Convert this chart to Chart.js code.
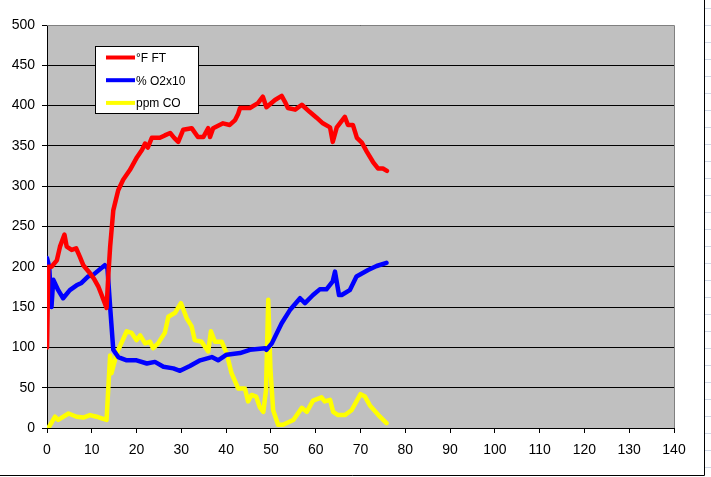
<!DOCTYPE html>
<html>
<head>
<meta charset="utf-8">
<script src="https://cdn.jsdelivr.net/npm/chart.js@4/dist/chart.umd.min.js"></script>
<style>
  html, body { margin: 0; padding: 0; background: #fff; }
  #wrap { width: 711px; height: 477px; }
</style>
</head>
<body>
<div id="wrap"><canvas id="myChart" width="711" height="477"></canvas></div>
<script>
// flue temp readings (minutes, °F)
const ftTime = [0, 0.3, 1, 2.2, 2.9, 3.9, 4.4, 5.5, 6.5, 7.3, 8.1, 9.6, 10.5, 11.5, 12.2, 13.3, 13.7, 14.1, 14.8, 15.9, 17, 18.5, 20.1, 21.2, 21.9, 22.5, 23.4, 25.2, 26.3, 27.5, 28.4, 29.3, 30.4, 32.3, 33.7, 34.9, 36, 36.4, 37.1, 39.3, 40.8, 42, 42.7, 43.1, 45.3, 47.1, 48.2, 49, 50.9, 52.4, 53.1, 53.8, 55.4, 56.9, 58.7, 60.2, 61.6, 63.2, 63.8, 64.7, 66.5, 67.2, 68.3, 69.2, 70.3, 71.4, 72.8, 73.9, 75, 75.9]
const ftVals = [100, 200, 200, 208, 225, 240, 225, 221, 223, 213, 202, 192, 185, 175, 165, 149, 190, 225, 270, 295, 308, 320, 336, 345, 353, 348, 360, 360, 363, 366, 360, 355, 370, 372, 361, 361, 372, 361, 372, 378, 376, 382, 390, 397, 397, 403, 411, 398, 407, 412, 405, 397, 395, 401, 392, 385, 378, 373, 355, 373, 386, 376, 376, 360, 354, 343, 330, 322, 322, 319]

// oxygen x10
const o2Time = [0, 0.5, 1, 1.4, 2.5, 3.6, 5.1, 6.6, 7.7, 9.2, 10.3, 12.9, 13.5, 14.1, 14.8, 15.9, 17.8, 20, 22.3, 24.1, 26, 28.2, 29.7, 31.9, 34.2, 36.8, 38.2, 40.1, 43.1, 45.3, 48.7, 49, 50.2, 52.4, 54.2, 56.5, 57.6, 59.4, 60.9, 62.4, 63.8, 64.3, 65.2, 65.8, 67.6, 69.1, 71.7, 73.6, 75.8]
const o2Vals = [211, 200, 150, 184, 171, 161, 171, 177, 180, 188, 190, 202, 198, 150, 97, 88, 84, 84, 80, 82, 76, 74, 71, 77, 84, 88, 84, 91, 93, 97, 99, 97, 105, 130, 146, 161, 155, 165, 172, 172, 182, 194, 165, 165, 171, 188, 196, 201, 205]

// carbon monoxide ppm
const coTime = [0, 0.3, 1.8, 2.5, 4.8, 6.6, 8.1, 9.6, 11.1, 12.2, 13.3, 13.7, 14.1, 14.4, 15.6, 17.8, 18.9, 20, 20.8, 21.9, 23, 23.7, 24.8, 26.3, 27.1, 28.6, 29.9, 31.2, 32.3, 33, 34.5, 36, 36.6, 37.5, 39, 40.1, 41.2, 42.7, 44.2, 44.9, 45.7, 46.7, 47.5, 48.3, 48.9, 49.4, 49.9, 50.5, 51.6, 52.7, 55, 56.9, 58, 59.4, 61.3, 62, 63.2, 63.9, 65, 66.5, 68, 69.1, 70, 71, 72.1, 74, 75.8]
const coVals = [0, 0, 14, 10, 18, 14, 13, 16, 14, 12, 10, 51, 90, 68, 93, 120, 118, 109, 115, 105, 107, 99, 105, 118, 138, 143, 155, 136, 126, 109, 107, 95, 120, 107, 107, 93, 68, 49, 49, 33, 41, 39, 26, 20, 47, 159, 72, 22, 4, 4, 10, 25, 20, 34, 38, 33, 35, 20, 16, 16, 22, 33, 42, 39, 28, 16, 6]

const seriesNames = ['°F FT', '% O2x10', 'ppm CO']
const seriesColors = ['#ff0000', '#0000ff', '#ffff00']

const toPoints = (xs, ys) => xs.map((x, i) => ({ x: x, y: ys[i] }))

// gray plot background + top/right frame + outer chart border
const plotBg = {
    id: 'plotBg',
    beforeDraw(chart) {
        const { ctx, chartArea: a } = chart
        ctx.save()
        ctx.fillStyle = '#c0c0c0'
        ctx.fillRect(a.left, a.top, a.right - a.left, a.bottom - a.top)
        // sheet row lines peeking out on the right
        ctx.strokeStyle = '#d0d7e5'
        ctx.lineWidth = 1
        for (let y = 8.5; y < 477; y += 17) {
            ctx.beginPath()
            ctx.moveTo(705, y)
            ctx.lineTo(711, y)
            ctx.stroke()
        }
        // outer border
        ctx.strokeStyle = '#000'
        ctx.beginPath()
        ctx.moveTo(704.5, 0)
        ctx.lineTo(704.5, 475.5)
        ctx.lineTo(0, 475.5)
        ctx.stroke()
        ctx.restore()
    },
    afterDatasetsDraw(chart) {
        const { ctx, chartArea: a } = chart
        ctx.save()
        ctx.strokeStyle = '#808080'
        ctx.lineWidth = 1
        ctx.beginPath()
        ctx.moveTo(a.left, a.top + 0.5)
        ctx.lineTo(a.right + 0.5, a.top + 0.5)
        ctx.lineTo(a.right + 0.5, a.bottom)
        ctx.stroke()
        ctx.restore()
    }
}

// boxed legend inside the plot
const boxLegend = {
    id: 'boxLegend',
    afterDraw(chart) {
        const ctx = chart.ctx
        ctx.save()
        ctx.fillStyle = '#fff'
        ctx.fillRect(95, 46, 103, 67)
        ctx.strokeStyle = '#000'
        ctx.lineWidth = 1
        ctx.strokeRect(95.5, 46.5, 103, 67)
        ctx.font = '12px "Liberation Sans", Arial, sans-serif'
        ctx.textBaseline = 'middle'
        chart.data.datasets.forEach((ds, i) => {
            const y = 57.5 + i * 22.7
            ctx.strokeStyle = ds.borderColor
            ctx.lineWidth = 4
            ctx.beginPath()
            ctx.moveTo(106, y)
            ctx.lineTo(135, y)
            ctx.stroke()
            ctx.fillStyle = '#000'
            ctx.fillText(ds.label, 136, y + 1)
        })
        ctx.restore()
    }
}

const ctx = document.getElementById('myChart').getContext('2d')
const myChart = new Chart(ctx, {
    type: 'scatter',
    data: {
        datasets: [
            { label: seriesNames[0], data: toPoints(ftTime, ftVals), borderColor: seriesColors[0] },
            { label: seriesNames[1], data: toPoints(o2Time, o2Vals), borderColor: seriesColors[1] },
            { label: seriesNames[2], data: toPoints(coTime, coVals), borderColor: seriesColors[2] }
        ].map(d => Object.assign(d, {
            showLine: true, borderWidth: 4.5, pointRadius: 0, tension: 0,
            backgroundColor: d.borderColor, borderJoinStyle: 'round', borderCapStyle: 'round'
        }))
    },
    options: {
        responsive: false,
        animation: false,
        layout: { padding: { left: 0, right: 37, top: 25, bottom: 0 } },
        plugins: { legend: { display: false }, tooltip: { enabled: false } },
        scales: {
            x: {
                type: 'linear', min: 0, max: 140,
                ticks: { stepSize: 10, color: '#000', padding: 9,
                    font: { family: '"Liberation Sans", Arial, sans-serif', size: 14 } },
                grid: { drawOnChartArea: false, drawTicks: true, tickLength: 5, color: '#000' },
                border: { color: '#000', width: 1 },
                afterFit: (s) => { s.height = 49 }
            },
            y: {
                min: 0, max: 500,
                ticks: { stepSize: 50, color: '#000', padding: 7,
                    font: { family: '"Liberation Sans", Arial, sans-serif', size: 14 } },
                grid: { color: '#000', lineWidth: 1, tickLength: 5 },
                border: { color: '#000', width: 1 },
                afterFit: (s) => { s.width = 47 }
            }
        }
    },
    plugins: [plotBg, boxLegend]
})
</script>
</body>
</html>
